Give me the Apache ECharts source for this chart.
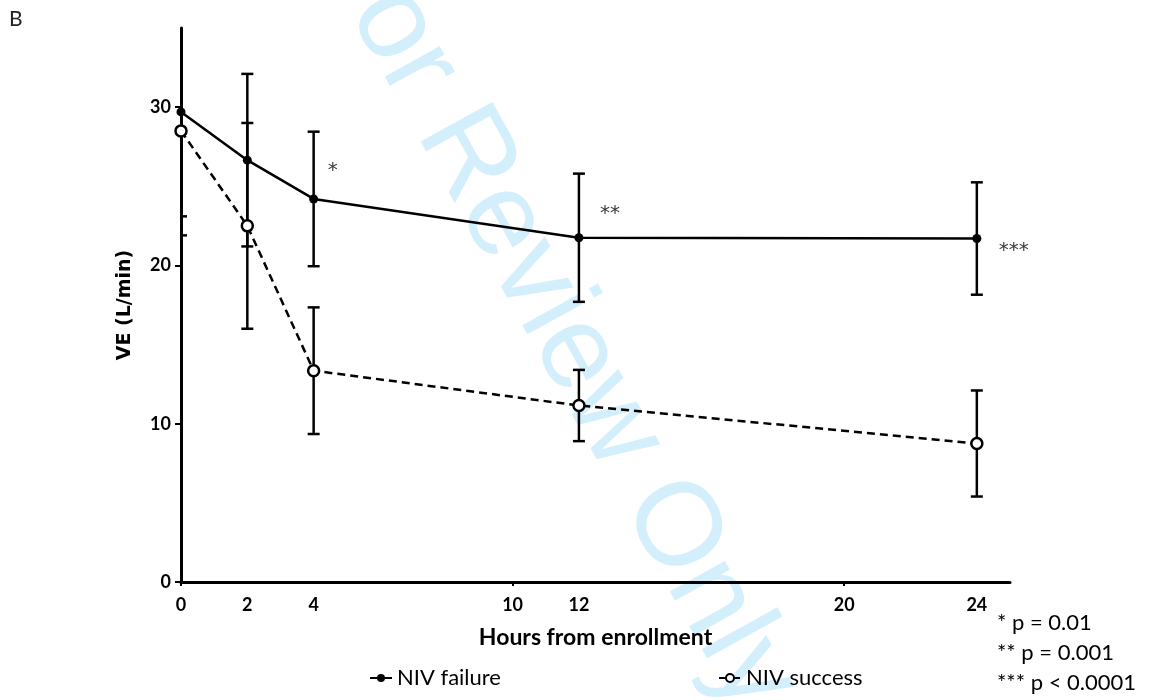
<!DOCTYPE html>
<html>
<head>
<meta charset="utf-8">
<script src="https://cdn.jsdelivr.net/npm/echarts@6/dist/echarts.min.js"></script>
<style>html,body{margin:0;padding:0;background:#fff;}#c{width:1149px;height:700px;}</style>
</head>
<body>
<div id="c"></div>
<script>
// ---- data ----
var hours = [0, 2, 4, 12, 24];
var failureMean = [29.7, 26.65, 24.2, 21.75, 21.7];
var failureErr  = [6.6, 5.45, 4.25, 4.05, 3.55];
var successMean = [28.5, 22.5, 13.35, 11.15, 8.75];
var successErr  = [6.6, 6.5, 4.0, 2.25, 3.35];
var xTickLabels = [0, 2, 4, 10, 12, 20, 24];
var yTickLabels = [0, 10, 20, 30];
var sigHours = [4, 12, 24];
var sigMarks = ['*', '**', '***'];
var pNotes = ['* p = 0.01', '** p = 0.001', '*** p < 0.0001'];

var labelFont = 'Lato, "Open Sans", sans-serif';

function pairs(xs, ys) { return xs.map(function (x, i) { return [x, ys[i]]; }); }
function errData(xs, m, e) { return xs.map(function (x, i) { return [x, m[i] - e[i], m[i] + e[i]]; }); }

function errRender(params, api) {
  var x = api.value(0);
  var lo = api.coord([x, api.value(1)]);
  var hi = api.coord([x, api.value(2)]);
  var hw = 6;
  var st = { stroke: '#000', lineWidth: 2.5 };
  return {
    type: 'group',
    children: [
      { type: 'line', shape: { x1: lo[0], y1: lo[1], x2: hi[0], y2: hi[1] }, style: st },
      { type: 'line', shape: { x1: lo[0] - hw, y1: lo[1], x2: lo[0] + hw, y2: lo[1] }, style: st },
      { type: 'line', shape: { x1: hi[0] - hw, y1: hi[1], x2: hi[0] + hw, y2: hi[1] }, style: st }
    ]
  };
}

var sigOffsets = [[19, -28], [31, -24], [37, 12]];
var sigData = sigHours.map(function (h, i) {
  var idx = hours.indexOf(h);
  return { value: [h, failureMean[idx]], label: { formatter: sigMarks[i], offset: sigOffsets[i] } };
});

var chart = echarts.init(document.getElementById('c'));
chart.setOption({
  animation: false,
  backgroundColor: '#fff',
  grid: { left: 181, right: 139, top: 28, bottom: 118, containLabel: false },
  xAxis: {
    type: 'value', min: 0, max: 25,
    name: 'Hours from enrollment', nameLocation: 'middle', nameGap: 44,
    nameTextStyle: { fontFamily: labelFont, fontWeight: 'bold', fontSize: 23, color: '#000' },
    axisLine: { show: true, lineStyle: { color: '#000', width: 3 } },
    axisTick: { show: true, length: 4, lineStyle: { color: '#000', width: 2 }, customValues: [0, 10, 20] },
    axisLabel: { customValues: xTickLabels, fontFamily: labelFont, fontWeight: 'bold', fontSize: 18, color: '#000', margin: 14 },
    splitLine: { show: false }
  },
  yAxis: {
    type: 'value', min: 0, max: 35,
    name: 'VE (L/min)', nameLocation: 'middle', nameGap: 46,
    nameTextStyle: { fontFamily: '"DejaVu Sans", sans-serif', fontWeight: 'bold', fontSize: 19, color: '#000' },
    axisLine: { show: true, lineStyle: { color: '#000', width: 3 } },
    axisTick: { show: true, length: 6, lineStyle: { color: '#000', width: 2 }, customValues: yTickLabels },
    axisLabel: { customValues: yTickLabels, fontFamily: labelFont, fontWeight: 'bold', fontSize: 18, color: '#000', margin: 10 },
    splitLine: { show: false }
  },
  legend: [
    { left: 364, top: 662, itemWidth: 22, itemHeight: 10, itemGap: 8, data: ['NIV failure'],
      textStyle: { fontFamily: labelFont, fontSize: 22, color: '#000' } },
    { left: 713, top: 662, itemWidth: 22, itemHeight: 10, data: ['NIV success'],
      textStyle: { fontFamily: labelFont, fontSize: 22, color: '#000' } }
  ],
  graphic: [
    { type: 'text', left: 9, top: 9, z: 0, style: { text: 'B', fontFamily: labelFont, fontSize: 21, fill: '#222' } },
    { type: 'text', x: 290, y: -39, rotation: -61 * Math.PI / 180, z: -10, silent: true,
      style: { text: 'For Review Only', fontFamily: '"Liberation Sans", Arial, sans-serif', fontSize: 119, fill: '#d4effc', textAlign: 'left', textVerticalAlign: 'bottom' } },
    { type: 'text', left: 997, top: 608, style: { text: pNotes.join('\n'), fontFamily: labelFont, fontSize: 22, lineHeight: 30, fill: '#000' } }
  ],
  series: [
    { name: 'NIV failure', type: 'line', data: pairs(hours, failureMean), z: 5,
      symbol: 'circle', symbolSize: 9, itemStyle: { color: '#000' },
      lineStyle: { color: '#000', width: 2.5, type: 'solid' } },
    { name: 'NIV success', type: 'line', data: pairs(hours, successMean), z: 5,
      symbol: 'circle', symbolSize: 11, itemStyle: { color: '#fff', borderColor: '#000', borderWidth: 2.5 },
      lineStyle: { color: '#000', width: 2.5, type: [8, 5] } },
    { type: 'custom', renderItem: errRender, data: errData(hours, failureMean, failureErr), clip: true, z: 3, silent: true },
    { type: 'custom', renderItem: errRender, data: errData(hours, successMean, successErr), clip: true, z: 3, silent: true },
    { type: 'scatter', data: sigData, symbolSize: 0, clip: false, silent: true, z: 6,
      label: { show: true, position: 'inside', color: '#000', fontFamily: '"DejaVu Sans", sans-serif', fontSize: 20 } }
  ]
});
</script>
</body>
</html>
